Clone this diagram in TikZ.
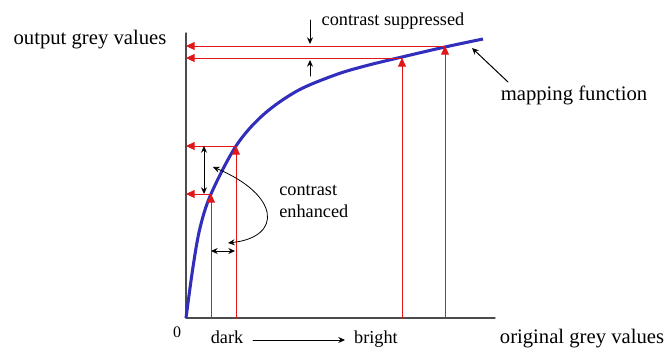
\documentclass[tikz,border=0pt]{standalone}
\usepackage{fontspec}
\setmainfont{LiberationSerif}[Extension=.ttf,UprightFont=*-Regular]
\newfontfamily\plotfont{LiberationSerif}[Extension=.ttf,UprightFont=*-Regular]
\usetikzlibrary{arrows.meta}
\definecolor{mapblue}{RGB}{50,46,188}
\definecolor{arrred}{RGB}{226,22,22}
\tikzset{
  lbl/.style={anchor=base,inner sep=0pt,font=\plotfont\fontsize{15.5}{18}\selectfont},
  sml/.style={anchor=base,inner sep=0pt,font=\plotfont\fontsize{13.7}{16.5}\selectfont},
  rd/.style={draw=arrred,line width=0.75pt,-{Triangle[length=6.5pt,width=6pt]}},
  bk/.style={line width=0.75pt,-{Stealth[length=5pt,width=4.5pt]}},
  bkk/.style={line width=0.75pt,{Stealth[length=5pt,width=4.5pt]}-{Stealth[length=5pt,width=4.5pt]}},
  every picture/.style={line cap=round,line join=round}}

\begin{document}
\begin{tikzpicture}[x=0.75pt,y=-0.75pt]
  \useasboundingbox (0,0) rectangle (668,351);
  \coordinate (o) at (186,318); \coordinate (yt) at (186,33);
  \coordinate (xe) at (495,318);
  \draw[line width=1.1pt,black!70] (yt)--(o)--(xe);
  % mapping curve
  \draw[mapblue,line width=2.3pt,line cap=butt] plot[smooth,tension=0.55] coordinates
    {(186,318) (193,267) (200,228) (211,194) (236,146) (263,115) (297,91)
     (335,75) (365,66) (402,57) (445,47) (483,39)};
  \coordinate (c1) at (211,194); \coordinate (c2) at (236,146);
  \coordinate (c3) at (402,58);  \coordinate (c4) at (445,46);
  \foreach \i in {1,...,4}{
    \draw[rd] (c\i |- o) -- (c\i);
    \draw[rd] (c\i) -- (c\i -| o);}
  % contrast enhanced
  \coordinate (e1) at (204,146); \coordinate (e2) at (204,194);
  \coordinate (h1) at (211,251); \coordinate (h2) at (235,251);
  \draw[bkk] (e1)--(e2);
  \draw[bkk] (h1)--(h2);
  \coordinate (k1) at (213,167); \coordinate (k2) at (228,243);
  \draw[bkk,line width=0.6pt]
    (k1) .. controls (280,195) and (283,237) .. (k2);
  \node[sml,anchor=base west] (ce1) at (279,195){contrast};
  \node[sml,anchor=base west] (ce2) at (279,217){enhanced};
  % contrast suppressed
  \coordinate (s1) at (310,20); \coordinate (s2) at (310,44);
  \coordinate (s3) at (310,76); \coordinate (s4) at (310,60);
  \draw[bk] (s1)--(s2); \draw[bk] (s3)--(s4);
  \node[sml] (cs) at (393,25){contrast suppressed};
  % labels
  \node[lbl] (mf) at (574,100){mapping function};
  \coordinate (m1) at (508,82); \coordinate (m2) at (472,48);
  \draw[bk] (m1)--(m2);
  \node[lbl] (yl) at (90,44){output grey values};
  \node[lbl] (xl) at (582,343){original grey values};
  \node[sml,font=\plotfont\fontsize{12}{14}\selectfont] (zero) at (177,337){0};
  \node[sml] (dk) at (227,343){dark};
  \node[sml] (br) at (376,343){bright};
  \coordinate (d1) at (253,340); \coordinate (d2) at (345,340);
  \draw[bk,line width=0.6pt] (d1)--(d2);
\end{tikzpicture}
\end{document}
